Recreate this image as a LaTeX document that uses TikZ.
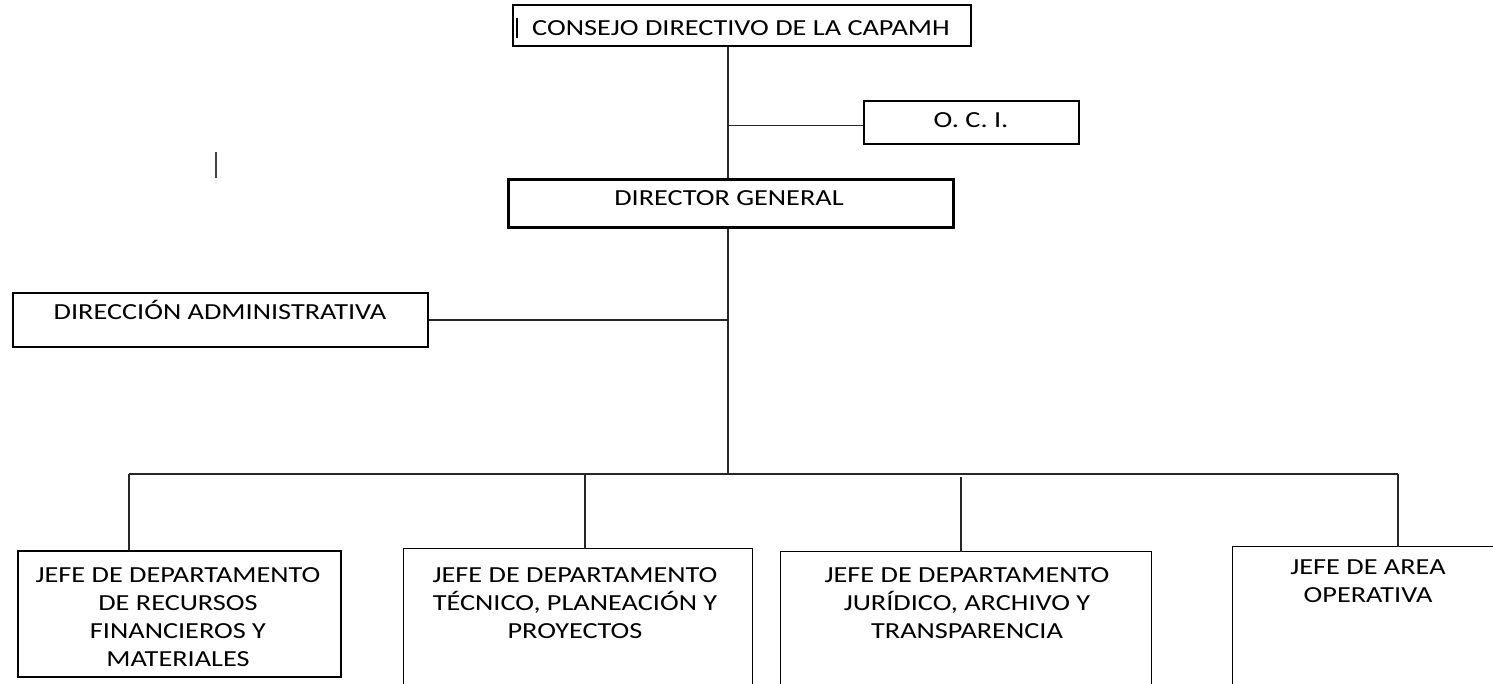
\documentclass[tikz,border=0pt]{standalone}
\usepackage{fontspec}
\setmainfont{Carlito}[FakeStretch=1.23]
\begin{document}
\begin{tikzpicture}[x=1pt,y=-1pt,
  box/.style={draw=black, line width=1.1pt, rectangle, inner sep=0pt},
  openbox/.style={rectangle, inner sep=0pt},
  lbl/.style={font=\fontsize{23}{28}\selectfont, inner sep=0pt, align=center, text=black},
  conn/.style={draw=black!85, line width=1.1pt}]
\useasboundingbox (0,0) rectangle (1493,683);
\clip (0,0) rectangle (1493,683);
% boxes
\node[box, minimum width=458pt, minimum height=41pt] (consejo) at (742,25.5) {};
\node[box, minimum width=215pt, minimum height=43pt] (oci) at (971.5,122.5) {};
\node[box, line width=3pt, minimum width=445pt, minimum height=48pt] (dg) at (730.5,203) {};
\node[box, minimum width=415pt, minimum height=54pt] (da) at (220.5,320) {};
\node[box, minimum width=323pt, minimum height=126pt] (b1) at (179.5,614) {};
\node[openbox, minimum width=348pt, minimum height=151pt] (b2) at (578,624.5) {};
\node[openbox, minimum width=370pt, minimum height=148pt] (b3) at (966,626) {};
\node[openbox, minimum width=277pt, minimum height=153pt] (b4) at (1371.5,623.5) {};
\draw[conn, draw=black] (b2.south west) -- (b2.north west) -- (b2.north east) -- (b2.south east);
\draw[conn, draw=black] (b3.south west) -- (b3.north west) -- (b3.north east) -- (b3.south east);
\draw[conn, draw=black] (b4.south west) -- (b4.north west) -- (b4.north east) -- (b4.south east);
% texts
\node[lbl, anchor=base] (t0) at (741,35) {CONSEJO DIRECTIVO DE LA CAPAMH};
\node[lbl, anchor=base] (t1) at (971,127) {O. C. I.};
\node[lbl, anchor=base] (t2) at (729,205) {DIRECTOR GENERAL};
\node[lbl, anchor=base] (t3) at (220,319) {DIRECCIÓN ADMINISTRATIVA};
\node[lbl, anchor=north] (t4) at (178,567) {JEFE DE DEPARTAMENTO\\DE RECURSOS\\FINANCIEROS Y\\MATERIALES};
\node[lbl, anchor=north] (t5) at (575,567) {JEFE DE DEPARTAMENTO\\TÉCNICO, PLANEACIÓN Y\\PROYECTOS};
\node[lbl, anchor=north] (t6) at (967,567) {JEFE DE DEPARTAMENTO\\JURÍDICO, ARCHIVO Y\\TRANSPARENCIA};
\node[lbl, anchor=north] (t7) at (1368,560) {JEFE DE AREA\\OPERATIVA};
% stray marks
\draw[line width=1.3pt] (517,18) -- (517,38);
\draw[line width=2pt, black!75] (216,152) -- (216,178);
% connectors
\coordinate (tr) at (728,0);
\coordinate (bl) at (129,474);
\coordinate (br) at (1398,474);
\coordinate (d2) at (585,474);
\coordinate (d3) at (961,477);
\coordinate (ocij) at ([yshift=-3pt]oci.west);
\draw[conn] (tr |- consejo.south) -- (tr |- dg.north);
\draw[conn] (tr |- ocij) -- (ocij);
\draw[conn] (tr |- dg.south) -- (tr |- bl);
\draw[conn] (da.east) -- (tr |- da.east);
\draw[conn] (bl) -- (br);
\draw[conn] (bl) -- (bl |- b1.north);
\draw[conn] (d2) -- (d2 |- b2.north);
\draw[conn] (d3) -- (d3 |- b3.north);
\draw[conn] (br) -- (br |- b4.north);
\end{tikzpicture}
\end{document}
